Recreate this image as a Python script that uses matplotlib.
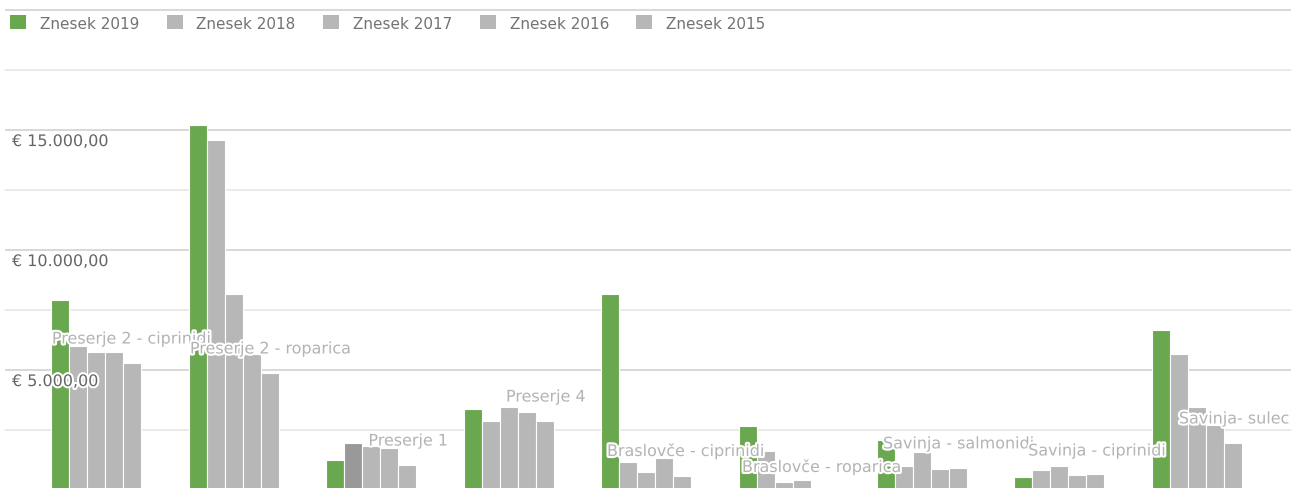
import matplotlib
matplotlib.use('Agg')
import matplotlib.pyplot as plt
import matplotlib.patheffects as pe
import numpy as np

# podatki
kategorije = ['Preserje 2 - ciprinidi', 'Preserje 2 - roparica', 'Preserje 1', 'Preserje 4',
              'Braslovče - ciprinidi', 'Braslovče - roparica', 'Savinja - salmonidi',
              'Savinja - ciprinidi', 'Savinja- sulec']
serije = ['Znesek 2019', 'Znesek 2018', 'Znesek 2017', 'Znesek 2016', 'Znesek 2015']
znesek_2019 = [7930, 15210, 1260, 3360, 8170, 2670, 2080, 560, 6650]
znesek_2018 = [6000, 14600, 1960, 2880, 1150, 1610, 990, 830, 5680]
znesek_2017 = [5750, 8170, 1850, 3460, 740, 350, 1570, 990, 3470]
znesek_2016 = [5750, 5650, 1740, 3250, 1330, 400, 880, 610, 2700]
znesek_2015 = [5290, 4880, 1040, 2880, 600, 0, 930, 650, 1960]
vrednosti = [znesek_2019, znesek_2018, znesek_2017, znesek_2016, znesek_2015]

# postavitev oznak kategorij (odmik x, višina y)
oznake_dx = [-0.32, -0.317, -0.02, -0.02, -0.286, -0.305, -0.28, -0.225, -0.13]
oznake_y = [6290, 5875, 2040, 3875, 1625, 960, 1920, 1625, 2960]

barve = ['#6aa84f', '#b7b7b7', '#b7b7b7', '#b7b7b7', '#b7b7b7']

fig = plt.figure(figsize=(12.91, 4.89), dpi=100)
ax = fig.add_axes([5 / 1291, -2 / 489, 1286 / 1291, 491 / 489])

x = np.arange(len(kategorije))
w = 0.1308
for i, (ime, v) in enumerate(zip(serije, vrednosti)):
    bars = ax.bar(x + (i - 2) * w, v, width=w, color=barve[i], edgecolor='white',
                  linewidth=0.8, label=ime, zorder=2)
    if i == 1:
        bars[2].set_facecolor('#999999')  # označen stolpec

ax.set_xlim(-0.661, 8.685)
ax.set_ylim(0, 20458)

# mreža
for y in np.arange(2500, 20001, 2500):
    glavna = y % 5000 == 0
    ax.axhline(y, color='#d2d2d2' if glavna else '#e6e6e6', lw=1.2, zorder=1)
halo = [pe.withStroke(linewidth=3, foreground='white')]
for y in [5000, 10000, 15000]:
    t = '€ ' + f'{y:,.2f}'.replace(',', 'X').replace('.', ',').replace('X', '.')
    ax.text(7 / 1286, y - 170, t, transform=ax.get_yaxis_transform(), ha='left', va='top',
            fontsize=11.5, color='#666666', path_effects=halo, zorder=4)

for i, k in enumerate(kategorije):
    ax.text(x[i] + oznake_dx[i], oznake_y[i], k, ha='left', va='center', fontsize=11.5,
            color='#b3b3b3', path_effects=halo, zorder=5)

for s in ax.spines.values():
    s.set_visible(False)
ax.set_xticks([])
ax.set_yticks([])

leg = ax.legend(loc='upper left', bbox_to_anchor=(5 / 1286, 0.967), ncol=5, frameon=False,
                fontsize=11, handlelength=1.05, handleheight=1.05, handletextpad=0.9,
                columnspacing=1.8, borderaxespad=0, borderpad=0)
for t in leg.get_texts():
    t.set_color('#737373')
for h in leg.legend_handles:
    h.set_edgecolor('none')

plt.savefig('out.png', dpi=100)
